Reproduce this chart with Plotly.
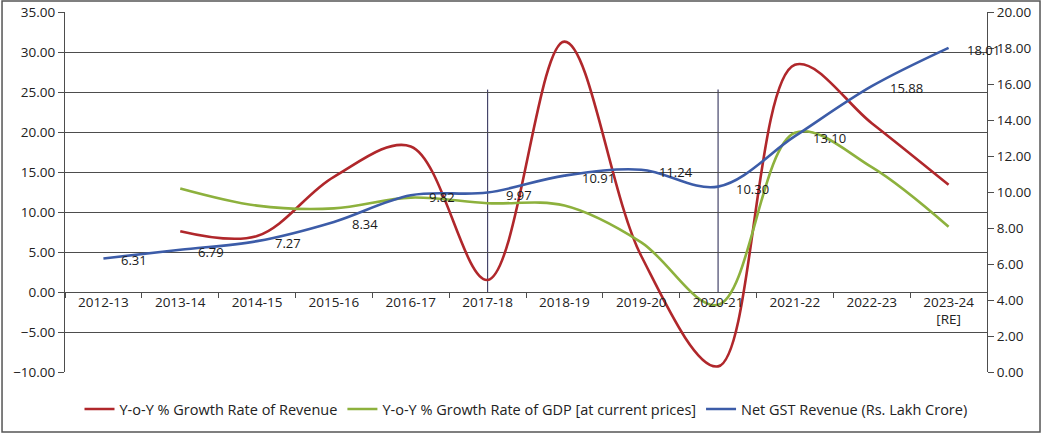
import plotly.graph_objects as go

years = ["2012-13", "2013-14", "2014-15", "2015-16", "2016-17", "2017-18",
         "2018-19", "2019-20", "2020-21", "2021-22", "2022-23", "2023-24"]
year_labels = years[:-1] + ["2023-24<br>[RE]"]

# Net GST Revenue (Rs. Lakh Crore) - right axis
gst_revenue = [6.31, 6.79, 7.27, 8.34, 9.82, 9.97, 10.91, 11.24, 10.30, 13.10, 15.88, 18.01]
# Y-o-Y % growth rate of revenue (from 2013-14) - left axis
revenue_growth = [7.6, 7.0, 14.4, 18.2, 1.5, 31.3, 4.5, -9.3, 28.4, 21.1, 13.4]
# Y-o-Y % growth rate of GDP at current prices (from 2013-14) - left axis
gdp_growth = [12.95, 10.8, 10.45, 11.8, 11.1, 10.8, 6.2, -1.6, 19.9, 15.6, 8.15]

marker_years = ["2017-18", "2020-21"]
marker_top = 25.3

RED = "#B0272B"
GREEN = "#8DB13D"
BLUE = "#3C5CA8"
GRID = "#4d4d4d"
FONT = "Open Sans"

fig = go.Figure()

fig.add_trace(go.Scatter(
    x=years[1:], y=revenue_growth, name="Y-o-Y % Growth Rate of Revenue",
    mode="lines", line=dict(color=RED, width=2.6, shape="spline", smoothing=1.0),
    yaxis="y"))
fig.add_trace(go.Scatter(
    x=years[1:], y=gdp_growth, name="Y-o-Y % Growth Rate of GDP [at current prices]",
    mode="lines", line=dict(color=GREEN, width=2.6, shape="spline", smoothing=1.0),
    yaxis="y"))
fig.add_trace(go.Scatter(
    x=years, y=gst_revenue, name="Net GST Revenue (Rs. Lakh Crore)",
    mode="lines", line=dict(color=BLUE, width=2.6, shape="spline", smoothing=1.0),
    yaxis="y2"))

annotations = []
for yr, v in zip(years, gst_revenue):
    annotations.append(dict(
        x=yr, y=v, xref="x", yref="y2", text=f"{v:.2f}", showarrow=False,
        xanchor="left", yanchor="middle", xshift=16, yshift=-2,
        font=dict(family=FONT, size=13, color="#1a1a1a")))

shapes = []
for yr in marker_years:
    shapes.append(dict(type="line", xref="x", yref="y", x0=yr, x1=yr, y0=0, y1=marker_top,
                       line=dict(color="#45456a", width=1.2), layer="below"))
# outer frame of the chart
shapes.append(dict(type="rect", xref="paper", yref="paper",
                   x0=-0.0683, x1=1.0575, y0=-0.1667, y1=1.0306,
                   line=dict(color="#555555", width=1.5)))

fig.update_layout(
    width=1044, height=438,
    margin=dict(l=65, r=57, t=12, b=66, autoexpand=False),
    paper_bgcolor="white", plot_bgcolor="white",
    font=dict(family=FONT, size=13, color="#222"),
    showlegend=True,
    legend=dict(orientation="h", x=0.5, xanchor="center", y=-0.103, yanchor="middle",
                font=dict(family=FONT, size=14.5, color="#222"),
                itemwidth=30, tracegroupgap=0),
    xaxis=dict(type="category", categoryorder="array", categoryarray=years,
               tickvals=years, ticktext=year_labels,
               anchor="free", position=10 / 45, automargin=False,
               showgrid=False, zeroline=False, showline=False,
               ticks="outside", tickson="boundaries", ticklen=5, tickcolor=GRID,
               tickfont=dict(family=FONT, size=13.5, color="#222"),
               range=[-0.5, 11.5]),
    yaxis=dict(range=[-10, 35], dtick=5, tick0=0, tickformat=".2f", automargin=False,
               showgrid=True, gridcolor=GRID, gridwidth=1,
               zeroline=False, showline=True, linecolor=GRID, linewidth=1,
               ticks="outside", ticklen=6, tickcolor=GRID,
               tickfont=dict(family=FONT, size=13.5, color="#222")),
    yaxis2=dict(range=[0, 20], dtick=2, tick0=0, tickformat=".2f", automargin=False,
                overlaying="y", side="right", anchor="x",
                showgrid=False, zeroline=False, showline=True, linecolor=GRID, linewidth=1,
                ticks="outside", ticklen=6, tickcolor=GRID,
                tickfont=dict(family=FONT, size=13.5, color="#222")),
    annotations=annotations,
    shapes=shapes,
)

fig.write_html("out.html",
               config={"displayModeBar": False},
               post_script="document.body.style.margin='0px';document.body.style.overflow='hidden';")
